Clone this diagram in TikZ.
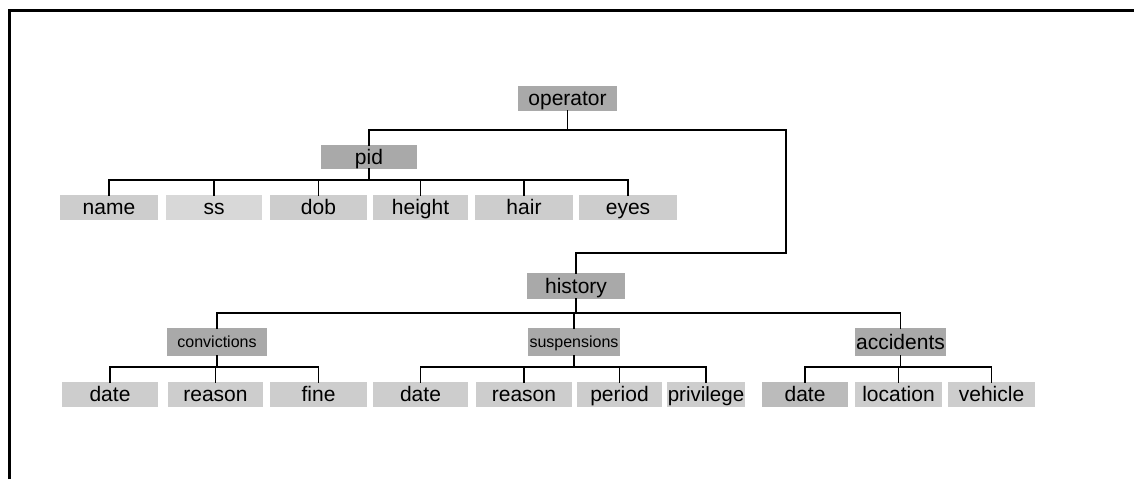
\documentclass[tikz,border=0pt]{standalone}
\usepackage{fontspec}
\setmainfont{Liberation Sans}
\definecolor{innergray}{HTML}{A9A9A9}
\definecolor{leafgray}{HTML}{CDCDCD}
\definecolor{lightgray2}{HTML}{D8D8D8}
\definecolor{midgray}{HTML}{BBBBBB}
\tikzset{
  box/.style={rectangle, inner sep=0pt, minimum height=25pt, text height=17pt, text depth=3pt, font=\fontsize{21}{23}\selectfont},
  inner/.style={box, fill=innergray},
  smallinner/.style={box, fill=innergray, minimum height=28pt, text height=13pt, text depth=3pt, font=\fontsize{16}{18}\selectfont},
  leaf/.style={box, fill=leafgray},
  link/.style={line width=1.8pt, line cap=rect},
  frame/.style={line width=3pt}
}
\begin{document}
\begin{tikzpicture}[x=1pt,y=1pt]
\useasboundingbox (0,0) rectangle (1134,-479);
% frame
\coordinate (fl) at (9,-479);
\coordinate (ftl) at (9,-10.5);
\coordinate (fr) at (1134,-10.5);
\draw[frame] (fl) -- (ftl) -- (fr);

% nodes
\node[inner, minimum width=99pt] (operator) at (567.5,-98.5) {operator};
\node[inner, minimum width=96pt, minimum height=24pt] (pid) at (369,-157) {pid};
\node[leaf, minimum width=98pt] (name) at (109,-207.5) {name};
\node[leaf, minimum width=96pt, fill=lightgray2] (ss) at (214,-207.5) {ss};
\node[leaf, minimum width=97pt] (dob) at (318.5,-207.5) {dob};
\node[leaf, minimum width=95pt] (height) at (420.5,-207.5) {height};
\node[leaf, minimum width=98pt] (hair) at (524,-207.5) {hair};
\node[leaf, minimum width=98pt] (eyes) at (628,-207.5) {eyes};

\node[inner, minimum width=98pt, minimum height=26pt] (history) at (576,-286) {history};
\node[smallinner, minimum width=100pt] (convictions) at (217,-342) {convictions};
\node[smallinner, minimum width=92pt] (suspensions) at (574,-342) {suspensions};
\node[inner, minimum width=91pt, minimum height=28pt] (accidents) at (900.5,-342) {accidents};

\node[leaf, minimum width=96pt] (date1) at (110,-394.5) {date};
\node[leaf, minimum width=95pt] (reason1) at (215.5,-394.5) {reason};
\node[leaf, minimum width=97pt] (fine) at (318.5,-394.5) {fine};
\node[leaf, minimum width=95pt] (date2) at (420.5,-394.5) {date};
\node[leaf, minimum width=96pt] (reason2) at (524,-394.5) {reason};
\node[leaf, minimum width=85pt] (period) at (619.5,-394.5) {period};
\node[leaf, minimum width=78pt, font=\fontsize{20.5}{22}\selectfont] (privilege) at (706,-394.5) {privilege};
\node[leaf, minimum width=86pt, fill=midgray] (date3) at (805,-394.5) {date};
\node[leaf, minimum width=87pt] (location) at (898.5,-394.5) {location};
\node[leaf, minimum width=87pt] (vehicle) at (991.5,-394.5) {vehicle};

% connectors
\coordinate (bend) at (786,-253);
\draw[link] (operator.south) -- ++(0,-19) -| (pid.north);
\draw[link] (operator.south) -- ++(0,-19) -| (bend) -| (history.north);

\foreach \c in {name,ss,dob,height,hair,eyes}
  \draw[link] (pid.south) -- ++(0,-11) -| (\c.north);

\foreach \c in {convictions,suspensions,accidents}
  \draw[link] (history.south) -- ++(0,-14) -| (\c.north);

\foreach \c in {date1,reason1,fine}
  \draw[link] (convictions.south) -- ++(0,-11) -| (\c.north);
\foreach \c in {date2,reason2,period,privilege}
  \draw[link] (suspensions.south) -- ++(0,-11) -| (\c.north);
\foreach \c in {date3,location,vehicle}
  \draw[link] (accidents.south) -- ++(0,-11) -| (\c.north);
\end{tikzpicture}
\end{document}
